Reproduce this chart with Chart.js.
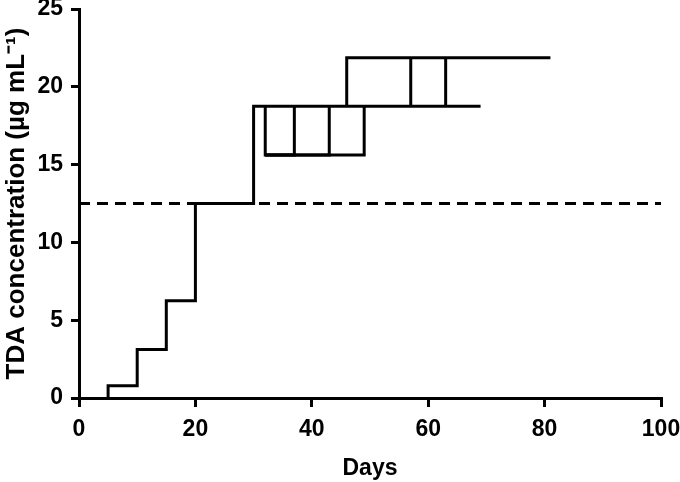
<!DOCTYPE html>
<html lang="en">
<head>
    <meta charset="UTF-8">
    <title>TDA concentration over days</title>
    <script src="https://cdn.jsdelivr.net/npm/chart.js"></script>
    <style>
        body { margin: 0; background: #fff; }
        #wrap { width: 680px; height: 482px; }
    </style>
</head>
<body>
    <div id="wrap">
        <canvas id="tdaChart"></canvas>
    </div>
    <script>
        // step data: each point is the level that starts on that day
        const mainDays   = [5, 5, 10, 15, 20, 30, 69];
        const mainLevels = [0, 0.78, 3.125, 6.25, 12.5, 18.75, 18.75];

        const dropADays = [32, 32, 37];
        const dropALevels = [18.75, 15.625, 18.75];
        const dropBDays = [32, 43];
        const dropBLevels = [15.625, 18.75];
        const dropCDays = [32, 49];
        const dropCLevels = [15.625, 18.75];

        const riseADays = [46, 46, 81];
        const riseALevels = [18.75, 21.875, 21.875];
        const riseBDays = [57, 57];
        const riseBLevels = [18.75, 21.875];
        const riseCDays = [63, 63];
        const riseCLevels = [18.75, 21.875];

        const cutoffDays = [0, 100];
        const cutoffLevels = [12.5, 12.5];

        const xTicks = [0, 20, 40, 60, 80, 100];
        const yTicks = [0, 5, 10, 15, 20, 25];

        function pts(days, levels) {
            return days.map((d, i) => ({ x: d, y: levels[i] }));
        }

        function stepSet(days, levels) {
            return {
                data: pts(days, levels),
                borderColor: '#000',
                borderWidth: 3,
                stepped: 'before',
                pointRadius: 0,
                fill: false
            };
        }

        const font = { family: 'Liberation Sans, Arial, sans-serif', size: 23, weight: 'bold' };

        const ctx = document.getElementById('tdaChart').getContext('2d');
        new Chart(ctx, {
            type: 'line',
            data: {
                datasets: [
                    stepSet(mainDays, mainLevels),
                    stepSet(dropADays, dropALevels),
                    stepSet(dropBDays, dropBLevels),
                    stepSet(dropCDays, dropCLevels),
                    stepSet(riseADays, riseALevels),
                    stepSet(riseBDays, riseBLevels),
                    stepSet(riseCDays, riseCLevels),
                    {
                        data: pts(cutoffDays, cutoffLevels),
                        borderColor: '#000',
                        borderWidth: 3,
                        borderDash: [11, 7],
                        pointRadius: 0,
                        fill: false
                    }
                ]
            },
            options: {
                responsive: true,
                maintainAspectRatio: false,
                animation: false,
                layout: { padding: { top: 9, right: 19, bottom: 0, left: 0 } },
                plugins: {
                    legend: { display: false },
                    tooltip: { enabled: false }
                },
                scales: {
                    x: {
                        type: 'linear',
                        min: 0,
                        max: 100,
                        afterBuildTicks: s => { s.ticks = xTicks.map(v => ({ value: v })); },
                        afterFit: s => { s.height = 84; s.paddingLeft = 0; s.paddingRight = 0; },
                        border: { display: true, color: '#000', width: 3 },
                        grid: { drawOnChartArea: false, drawTicks: true, tickLength: 9, color: '#000', lineWidth: 3 },
                        ticks: { color: '#000', font: font, padding: 9, maxRotation: 0 },
                        title: { display: true, text: 'Days', color: '#000', font: font, padding: { top: 0, bottom: 0 } }
                    },
                    y: {
                        min: 0,
                        max: 25,
                        afterBuildTicks: s => { s.ticks = yTicks.map(v => ({ value: v })); },
                        afterFit: s => { s.width = 79; s.paddingTop = 0; s.paddingBottom = 0; },
                        border: { display: true, color: '#000', width: 3 },
                        grid: { drawOnChartArea: false, drawTicks: true, tickLength: 8, color: '#000', lineWidth: 3 },
                        ticks: { color: '#000', font: font, padding: 8 },
                        title: { display: true, text: 'TDA concentration (µg mL⁻¹)', color: '#000', font: { ...font, size: 26 }, padding: { top: 1, bottom: 0 } }
                    }
                }
            }
        });
    </script>
</body>
</html>
